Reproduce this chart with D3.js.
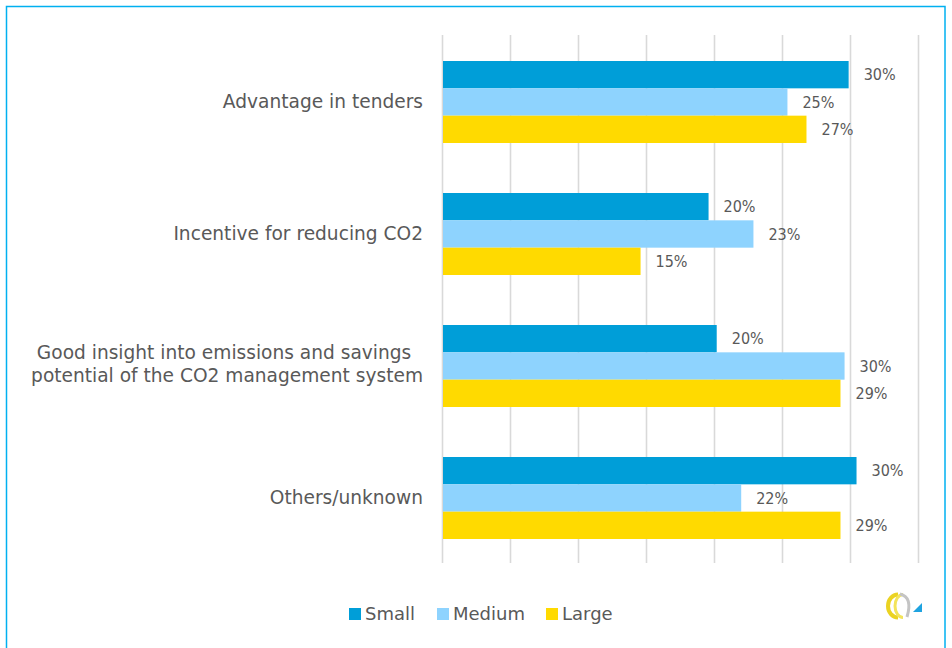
<!DOCTYPE html>
<html><head><meta charset="utf-8">
<script src="https://cdn.jsdelivr.net/npm/d3@7"></script>
<style>
html,body{margin:0;padding:0;background:#fff;}
svg{display:block;}
</style></head>
<body>
<svg id="chart" width="952" height="648"></svg>
<script>
const categories = [
  ["Advantage in tenders"],
  ["Incentive for reducing CO2"],
  ["Good insight into emissions and savings ", "potential of the CO2 management system"],
  ["Others/unknown"]
];
const seriesNames = ["Small", "Medium", "Large"];
const seriesColors = ["#009ED8", "#8ED3FE", "#FFDA00"];
const smallValues  = [0.299, 0.196, 0.202, 0.3048];
const mediumValues = [0.254, 0.229, 0.296, 0.220];
const largeValues  = [0.268, 0.146, 0.293, 0.293];
const xTicks = [0, 0.05, 0.10, 0.15, 0.20, 0.25, 0.30, 0.35];

const series = [smallValues, mediumValues, largeValues];
const catKeys = categories.map(c => c.join(" "));
const svg = d3.select("#chart");
const textColor = "#595959";

// frame
svg.append("rect").attr("x", 6.5).attr("y", 6.5).attr("width", 938.5).attr("height", 700)
  .attr("fill", "none").attr("stroke", "#00B0F0").attr("stroke-width", 1.5);

const x = d3.scaleLinear().domain([0, 0.35]).range([442, 918]);
const y = d3.scaleBand().domain(catKeys).range([36, 564]).paddingInner(0.3788).paddingOuter(0.1894);
const ySub = d3.scaleBand().domain(seriesNames).range([0, y.bandwidth()]);

// gridlines via axis
const gAxis = svg.append("g").attr("transform", "translate(0,35)")
  .call(d3.axisBottom(x).tickValues(xTicks).tickSize(528).tickFormat(""));
gAxis.select(".domain").remove();
gAxis.selectAll(".tick line").attr("stroke", "#D9D9D9").attr("stroke-width", 1.6);

// bars
const groups = svg.append("g").selectAll("g").data(catKeys).join("g")
  .attr("transform", d => `translate(0,${y(d)})`);
groups.selectAll("rect").data((d, i) => series.map((s, j) => ({name: seriesNames[j], v: s[i], c: seriesColors[j]})))
  .join("rect")
  .attr("x", x(0) + 1)
  .attr("y", d => ySub(d.name))
  .attr("width", d => x(d.v) - x(0) - 1)
  .attr("height", ySub.bandwidth())
  .attr("fill", d => d.c);
groups.selectAll("text").data((d, i) => series.map((s, j) => ({name: seriesNames[j], v: s[i]})))
  .join("text")
  .attr("x", d => x(d.v) + 15)
  .attr("y", d => ySub(d.name) + ySub.bandwidth() / 2)
  .attr("dy", "0.36em")
  .attr("font-family", "DejaVu Sans Condensed, DejaVu Sans, sans-serif")
  .attr("font-size", 16)
  .attr("fill", textColor)
  .text(d => d3.format(".0%")(d.v));

// category labels
const labelRight = 423;
categories.forEach((lines, i) => {
  const cy = y(catKeys[i]) + y.bandwidth() / 2;
  const t = svg.append("text")
    .attr("font-family", "DejaVu Sans, sans-serif")
    .attr("font-size", 18.6)
    .attr("fill", textColor);
  if (lines.length === 1) {
    t.attr("x", labelRight).attr("y", cy).attr("dy", "0.3em").attr("text-anchor", "end").text(lines[0]);
  } else {
    const spans = lines.map((l, k) => t.append("tspan").attr("x", 0).attr("y", cy - 7.5 + k * 23).text(l).style("white-space", "pre"));
    t.attr("xml:space", "preserve");
    const widths = spans.map(s => s.node().getComputedTextLength());
    const maxW = d3.max(widths);
    const cx = labelRight - maxW / 2;
    t.attr("text-anchor", "middle");
    spans.forEach(s => s.attr("x", cx));
  }
});

// legend
const legendX = [349, 437, 546];
const legend = svg.append("g");
seriesNames.forEach((n, i) => {
  legend.append("rect").attr("x", legendX[i]).attr("y", 608).attr("width", 12).attr("height", 12).attr("fill", seriesColors[i]);
  legend.append("text").attr("x", legendX[i] + 16).attr("y", 619.5)
    .attr("font-family", "DejaVu Sans, sans-serif").attr("font-size", 18).attr("fill", textColor).text(n);
});

// logo
const logo = svg.append("g").attr("fill", "none");
logo.append("path").attr("d", "M898,594.5 A10,11.5 0 0 0 898,617.5").attr("stroke", "#EBD322").attr("stroke-width", 4);
logo.append("path").attr("d", "M903,594.5 A8,11.5 0 0 0 903,617.5").attr("stroke", "#F3E45A").attr("stroke-width", 3);
logo.append("path").attr("d", "M900,594 Q913,597 907,617").attr("stroke", "#C4C4C4").attr("stroke-width", 3);
logo.append("path").attr("d", "M913,612 L922,603 L922,612 Z").attr("fill", "#1FA3E0");
</script>
</body></html>
